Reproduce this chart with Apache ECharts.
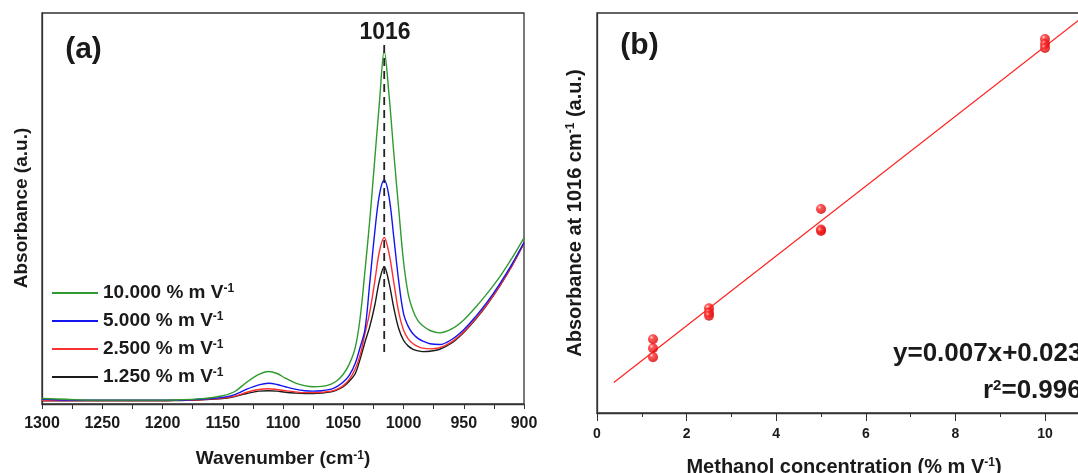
<!DOCTYPE html>
<html>
<head>
<meta charset="UTF-8">
<title>Methanol FTIR calibration</title>
<style>
	* { margin: 0; padding: 0; }
	html, body { width: 100%; height: 100%; overflow: hidden; background-color: #fff; }
	#main { width: 1078px; height: 473px; }
</style>
</head>
<body>
<div id="main"></div>
<script src="https://cdn.jsdelivr.net/npm/echarts@6/dist/echarts.min.js"></script>
<script>
var FONT = '"Liberation Sans", Arial, sans-serif';
var INK = '#1a1a1a';

// (a) spectra, absorbance in arbitrary units
var wavenumbers = [1300, 1280, 1260, 1240, 1220, 1200, 1185, 1170, 1160, 1150, 1140, 1130, 1120,
	1112, 1105, 1098, 1090, 1082, 1075, 1068, 1060, 1055, 1050, 1045, 1040,
	1036, 1032, 1028, 1024, 1020, 1016, 1012, 1008, 1004, 1000, 996, 992, 988, 984,
	978, 970, 960, 950, 940, 930, 920, 910, 900];
var abs10000 = [1.4, 1.2, 1.0, 1.0, 1.0, 1.0, 1.1, 1.3, 1.6, 2.1, 3.2, 5.6, 7.6,
	8.3, 7.8, 6.6, 5.4, 4.7, 4.4, 4.5, 5.1, 6.0, 7.6, 10.2, 14.5,
	22, 34, 47, 62, 77, 90.3, 79, 64, 50, 36.5, 28, 23.8, 21.3, 20.0,
	18.8, 18.2, 19.2, 21.5, 24.8, 28.5, 32.6, 37.3, 42.5];
var abs5000 = [1.2, 1.0, 1.0, 1.0, 1.0, 1.0, 1.0, 1.2, 1.4, 1.7, 2.4, 3.8, 4.9,
	5.3, 5.0, 4.4, 3.8, 3.4, 3.3, 3.4, 3.8, 4.5, 5.6, 7.3, 10.4,
	14.5, 19, 31, 43.5, 53.5, 57.3, 53, 42.5, 31.5, 23.2, 19.8, 17.9, 16.8, 16.1,
	15.4, 15.2, 16.5, 19.0, 22.4, 26.3, 30.8, 35.8, 41.3];
var abs2500 = [0.9, 0.9, 0.9, 0.9, 0.9, 0.9, 1.0, 1.1, 1.3, 1.5, 2.0, 3.0, 3.7,
	3.9, 3.7, 3.4, 3.1, 2.9, 2.9, 3.0, 3.3, 3.8, 4.7, 6.3, 9.0,
	12.5, 18, 23.5, 31, 39, 42.6, 38.5, 31, 23.5, 18.9, 16.6, 15.4, 14.7, 14.3,
	14.1, 14.4, 15.9, 18.5, 21.9, 25.8, 30.3, 35.4, 41.2];
var abs1250 = [0.8, 0.8, 0.8, 0.8, 0.8, 0.8, 0.9, 1.0, 1.2, 1.4, 1.9, 2.7, 3.3,
	3.4, 3.3, 3.0, 2.8, 2.7, 2.7, 2.8, 3.1, 3.6, 4.4, 5.8, 7.8,
	11.5, 15.8, 19.8, 25, 31.5, 35.1, 31, 24.5, 19.3, 16.3, 14.8, 14.0, 13.6, 13.4,
	13.5, 14.0, 15.6, 18.3, 21.7, 25.7, 30.2, 35.3, 41.1];
var spectraNames = ['10.000 % m V-1', '5.000 % m V-1', '2.500 % m V-1', '1.250 % m V-1'];
var spectraColors = ['#2f9a2f', '#1414f0', '#ff3030', '#1a1a1a'];
var peakX = [1016, 1016];
var peakY = [13.3, 92.3];

// (b) calibration points
var concX = [1.25, 1.25, 1.25, 2.5, 2.5, 2.5, 5, 5, 5, 10, 10, 10];
var absAtPeak = [0.0343, 0.0325, 0.0307, 0.0405, 0.0396, 0.0390, 0.0604, 0.0563, 0.0560, 0.0945, 0.0935, 0.0927];
var fitX = [0.375, 11];
var fitY = [0.0256, 0.1000];

function zip(xs, ys) {
	return xs.map(function(x, i) { return [x, ys[i]]; });
}

var supStyle = { fontSize: 12, fontWeight: 'bold', fontFamily: FONT, color: INK, verticalAlign: 'top', lineHeight: 12 };

var chart = echarts.init(document.getElementById('main'));

var spectraSeries = [abs10000, abs5000, abs2500, abs1250].map(function(arr, i) {
	return {
		name: spectraNames[i],
		type: 'line',
		xAxisIndex: 0,
		yAxisIndex: 0,
		data: zip(wavenumbers, arr),
		smooth: 0.35,
		symbol: 'none',
		lineStyle: { color: spectraColors[i], width: 1.4 },
		itemStyle: { color: spectraColors[i] },
		z: 10 - i
	};
});

function textEl(x, y, text, size, extra) {
	var el = {
		type: 'text',
		x: x,
		y: y,
		style: {
			text: text,
			fill: INK,
			fontSize: size,
			fontWeight: 'bold',
			fontFamily: FONT,
			align: 'center',
			verticalAlign: 'middle',
			rich: { sup: supStyle }
		}
	};
	if (extra) {
		for (var k in extra) el[k] = extra[k];
	}
	return el;
}

var option = {
	backgroundColor: '#fff',
	animation: false,
	grid: [
		{ left: 42, top: 13, width: 482, height: 391, show: true, borderColor: '#333', borderWidth: 1.3, outerBoundsMode: 'none' },
		{ left: 597, top: 13, width: 537.6, bottom: 60, show: true, borderColor: '#333', borderWidth: 1.3, outerBoundsMode: 'none' }
	],
	xAxis: [{
		gridIndex: 0,
		type: 'value',
		min: 900,
		max: 1300,
		interval: 50,
		inverse: true,
		axisLine: { show: true, onZero: false, lineStyle: { color: '#333', width: 1.3 } },
		axisTick: { show: true, inside: false, length: 5, lineStyle: { color: '#333' } },
		minorTick: { show: true, splitNumber: 2, length: 5, lineStyle: { color: '#333' } },
		axisLabel: {
			fontSize: 16, fontWeight: 'bold', color: INK, fontFamily: FONT, margin: 12,
			formatter: function(v) { return String(v); }
		},
		splitLine: { show: false }
	}, {
		gridIndex: 1,
		type: 'value',
		min: 0,
		max: 12,
		interval: 2,
		axisLine: { show: true, onZero: false, lineStyle: { color: '#333', width: 1.3 } },
		axisTick: { show: true, inside: false, length: 8, lineStyle: { color: '#333' } },
		minorTick: { show: true, splitNumber: 2, length: 4, lineStyle: { color: '#333' } },
		axisLabel: { fontSize: 14, fontWeight: 'bold', color: INK, fontFamily: FONT, margin: 14 },
		splitLine: { show: false }
	}],
	yAxis: [{
		gridIndex: 0,
		type: 'value',
		min: 0,
		max: 100,
		axisLine: { show: true, lineStyle: { color: '#333', width: 1.3 } },
		axisTick: { show: false },
		axisLabel: { show: false },
		splitLine: { show: false }
	}, {
		gridIndex: 1,
		type: 'value',
		min: 0.0195,
		max: 0.0997,
		axisLine: { show: true, lineStyle: { color: '#333', width: 1.3 } },
		axisTick: { show: false },
		axisLabel: { show: false },
		splitLine: { show: false }
	}],
	legend: {
		data: spectraNames.map(function(n) { return { name: n, icon: 'rect' }; }),
		orient: 'vertical',
		left: 47,
		top: 278,
		itemWidth: 46,
		itemHeight: 2,
		itemGap: 8,
		textStyle: {
			fontSize: 19,
			fontWeight: 'bold',
			color: INK,
			fontFamily: FONT,
			lineHeight: 20,
			rich: { sup: supStyle }
		},
		formatter: function(name) {
			return name.replace('V-1', 'V{sup|-1}');
		}
	},
	graphic: [
		textEl(83.5, 50, '(a)', 30),
		textEl(639.5, 45.5, '(b)', 30),
		textEl(385, 33, '1016', 23),
		textEl(22, 208, 'Absorbance (a.u.)', 19, { rotation: Math.PI / 2 }),
		textEl(283, 459, 'Wavenumber (cm{sup|-1})', 19),
		textEl(575, 213, 'Absorbance at 1016 cm{sup|-1} (a.u.)', 20, { rotation: Math.PI / 2 }),
		textEl(844, 467, 'Methanol concentration (% m V{sup|-1})', 20),
		{
			type: 'text', x: 893, y: 354,
			style: { text: 'y=0.007x+0.023', fill: INK, fontSize: 26, fontWeight: 'bold', fontFamily: FONT, align: 'left', verticalAlign: 'middle' }
		},
		{
			type: 'text', x: 983, y: 391,
			style: {
				text: 'r{sup2|2}=0.996', fill: INK, fontSize: 26, fontWeight: 'bold', fontFamily: FONT, align: 'left', verticalAlign: 'middle',
				rich: { sup2: { fontSize: 15, fontWeight: 'bold', fontFamily: FONT, fill: INK, verticalAlign: 'top', lineHeight: 14 } }
			}
		}
	],
	series: spectraSeries.concat([{
		name: 'peak',
		type: 'line',
		xAxisIndex: 0,
		yAxisIndex: 0,
		data: zip(peakX, peakY),
		symbol: 'none',
		lineStyle: { color: '#222', width: 1.8, type: [8, 5] },
		z: 12
	}, {
		name: 'fit',
		type: 'line',
		xAxisIndex: 1,
		yAxisIndex: 1,
		data: zip(fitX, fitY),
		symbol: 'none',
		lineStyle: { color: '#ff2020', width: 1.2 }
	}, {
		name: 'points',
		type: 'scatter',
		xAxisIndex: 1,
		yAxisIndex: 1,
		data: zip(concX, absAtPeak),
		symbolSize: 10,
		itemStyle: {
			color: new echarts.graphic.RadialGradient(0.35, 0.32, 0.7, [
				{ offset: 0, color: '#ffc8c8' },
				{ offset: 0.3, color: '#ff2a2a' },
				{ offset: 1, color: '#d40000' }
			])
		},
		z: 5
	}])
};

chart.setOption(option);
</script>
</body>
</html>
